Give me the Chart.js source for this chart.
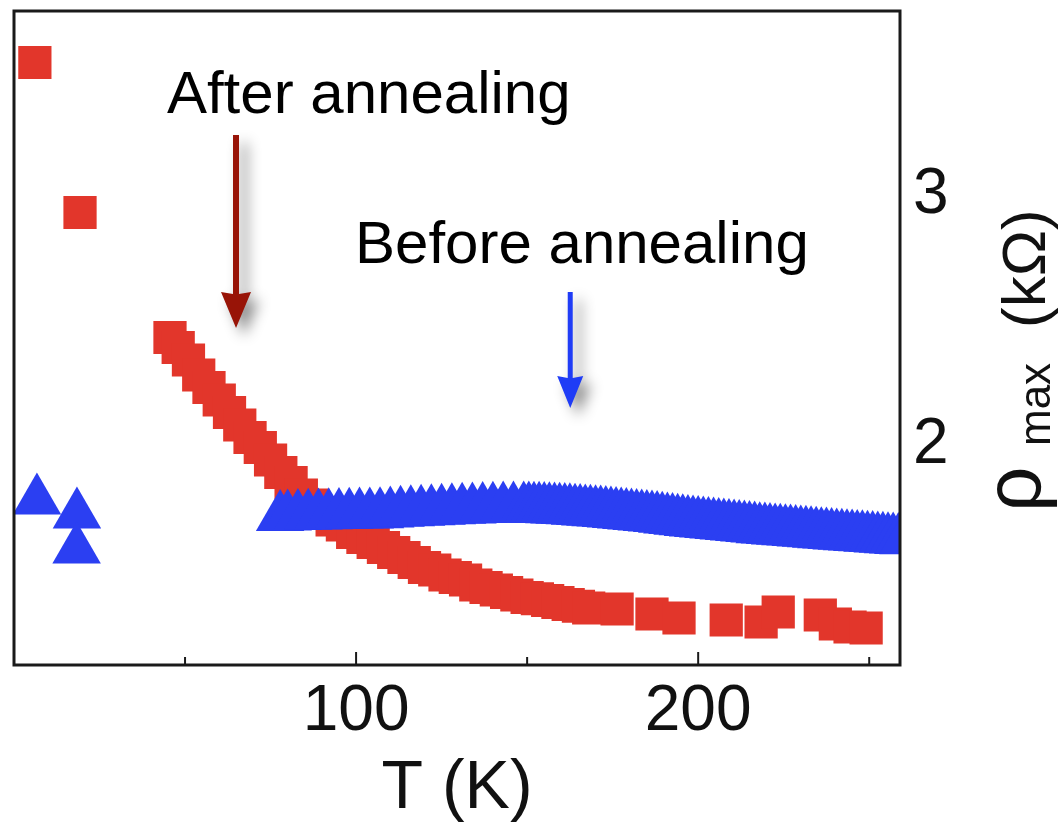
<!DOCTYPE html>
<html>
<head>
<meta charset="utf-8">
<title>rho max vs T</title>
<script src="https://cdn.jsdelivr.net/npm/chart.js@4.4.0/dist/chart.umd.min.js"></script>
<style>
    html, body { margin: 0; padding: 0; background: #ffffff; }
    #wrap { width: 1060px; height: 832px; }
</style>
</head>
<body>
<div id="wrap"><canvas id="rhoChart" width="1060" height="832"></canvas></div>
<script>
// Data: T in K, rho_max in kOhm
const afterT = [6.1, 19.3, 45.6, 48, 51, 54, 57, 60, 63, 66, 69, 72, 75, 78, 81, 84, 87, 90, 93, 96,
    99, 102, 105, 108, 111, 114, 117, 120, 123, 126, 129, 132, 135, 138, 141, 144, 147, 150, 153, 156,
    159, 162, 165, 168, 176.3, 186.5, 194.4, 208.2, 218.4, 223.4, 235.7, 240.1, 244.4, 249.1];
const afterRho = [3.53, 2.93, 2.43, 2.39, 2.34, 2.28, 2.23, 2.18, 2.13, 2.08, 2.03, 1.99, 1.94, 1.89, 1.85, 1.80, 1.76, 1.73, 1.70, 1.68,
    1.65, 1.63, 1.61, 1.59, 1.57, 1.55, 1.53, 1.51, 1.50, 1.48, 1.47, 1.46, 1.44, 1.43, 1.42, 1.41, 1.40, 1.39, 1.385, 1.378,
    1.37, 1.362, 1.355, 1.348, 1.344, 1.324, 1.308, 1.30, 1.292, 1.332, 1.32, 1.284, 1.272, 1.268];

const beforeT = [6.7, 18.4, 18.3, 77.8, 80, 83, 86, 89, 92, 95, 98, 101, 104, 107, 110, 113, 116, 119, 122,
    125, 128, 131, 134, 137, 140, 143, 146, 149, 150.5, 152, 153.5, 155, 156.5, 158, 159.5, 161, 162.5,
    164, 165.5, 167, 168.5, 170, 171.5, 173, 174.5, 176, 177.5, 179, 180.5, 182, 183.5, 185, 186.5,
    188, 189.5, 191, 192.5, 194, 195.5, 197, 198.5, 200, 201.5, 203, 204.5, 206, 207.5, 209, 210.5,
    212, 213.5, 215, 216.5, 218, 219.5, 221, 222.5, 224, 225.5, 227, 228.5, 230, 231.5, 233, 234.5,
    236, 237.5, 239, 240.5, 242, 243.5, 245, 246.5, 248, 249.5, 251, 252.5, 254, 255.5, 257, 258.5, 260];
const beforeRho = [1.778, 1.722, 1.582, 1.712, 1.714, 1.716, 1.717, 1.718, 1.719, 1.720, 1.721, 1.722, 1.722, 1.723, 1.726, 1.729, 1.731, 1.733, 1.735,
    1.737, 1.739, 1.741, 1.742, 1.744, 1.745, 1.746, 1.746, 1.746, 1.746, 1.745, 1.745, 1.744, 1.743, 1.742, 1.741, 1.740, 1.739,
    1.737, 1.736, 1.734, 1.733, 1.731, 1.730, 1.728, 1.726, 1.724, 1.722, 1.720, 1.718, 1.716, 1.714, 1.712, 1.710,
    1.708, 1.705, 1.702, 1.700, 1.697, 1.695, 1.692, 1.690, 1.688, 1.686, 1.684, 1.682, 1.680, 1.678, 1.676, 1.674,
    1.672, 1.670, 1.668, 1.666, 1.663, 1.662, 1.660, 1.658, 1.657, 1.655, 1.654, 1.652, 1.650, 1.649, 1.647, 1.645,
    1.643, 1.642, 1.640, 1.638, 1.637, 1.635, 1.634, 1.632, 1.631, 1.629, 1.628, 1.626, 1.625, 1.623, 1.622, 1.620, 1.619];

const xTickLabels = [100, 200];
const xMinorTicks = [50, 150, 250];
const yTickLabels = [2, 3];

const FONT = "'Liberation Sans', Arial, Helvetica, sans-serif";
const RED = '#e2362b';
const BLUE = '#2b3ff2';

function toPoints(xs, ys) {
    return xs.map((x, i) => ({ x: x, y: ys[i] }));
}

// no extra room for edge labels, the frame is fixed
function noScalePadding(scale) {
    scale.paddingTop = 0;
    scale.paddingBottom = 0;
    scale.paddingLeft = 0;
    scale.paddingRight = 0;
}

function drawArrow(ctx, x, y0, y1, color, lw, headW, headH) {
    ctx.save();
    ctx.shadowColor = 'rgba(0, 0, 0, 0.45)';
    ctx.shadowBlur = 14;
    ctx.shadowOffsetX = 8;
    ctx.shadowOffsetY = 8;
    ctx.fillStyle = color;
    ctx.beginPath();
    ctx.moveTo(x - lw / 2, y0);
    ctx.lineTo(x + lw / 2, y0);
    ctx.lineTo(x + lw / 2, y1 - headH + 2);
    ctx.lineTo(x + headW / 2, y1 - headH);
    ctx.lineTo(x, y1);
    ctx.lineTo(x - headW / 2, y1 - headH);
    ctx.lineTo(x - lw / 2, y1 - headH + 2);
    ctx.closePath();
    ctx.fill();
    ctx.restore();
}

// frame, inward ticks, arrows, notes and the rotated y title
const decorations = {
    id: 'decorations',
    afterDatasetsDraw(chart) {
        const ctx = chart.ctx;
        const area = chart.chartArea;
        const xs = chart.scales.x;
        const ys = chart.scales.y;

        ctx.save();
        ctx.strokeStyle = '#1a1a1a';
        ctx.lineWidth = 3;
        ctx.strokeRect(area.left, area.top, area.right - area.left, area.bottom - area.top);

        ctx.lineWidth = 2;
        xTickLabels.forEach(v => {
            const px = xs.getPixelForValue(v);
            ctx.beginPath();
            ctx.moveTo(px, area.bottom);
            ctx.lineTo(px, area.bottom - 13);
            ctx.stroke();
        });
        xMinorTicks.forEach(v => {
            const px = xs.getPixelForValue(v);
            ctx.beginPath();
            ctx.moveTo(px, area.bottom);
            ctx.lineTo(px, area.bottom - 8);
            ctx.stroke();
        });
        ctx.restore();

        // arrows, placed in data units
        drawArrow(ctx, xs.getPixelForValue(64.9), ys.getPixelForValue(3.24), ys.getPixelForValue(2.468), '#981407', 6, 30, 36);
        drawArrow(ctx, xs.getPixelForValue(162.6), ys.getPixelForValue(2.612), ys.getPixelForValue(2.148), '#1f3cf6', 5, 26, 32);

        ctx.save();
        ctx.fillStyle = '#000000';
        ctx.font = '60px ' + FONT;
        ctx.textBaseline = 'alphabetic';
        ctx.textAlign = 'left';
        ctx.fillText('After annealing', xs.getPixelForValue(44.7), ys.getPixelForValue(3.328));
        ctx.fillText('Before annealing', xs.getPixelForValue(99.7), ys.getPixelForValue(2.728));
        ctx.restore();
    },
    afterDraw(chart) {
        const ctx = chart.ctx;
        const area = chart.chartArea;
        ctx.save();
        ctx.translate(area.right + 140, area.bottom - 153);
        ctx.rotate(-Math.PI / 2);
        ctx.fillStyle = '#111111';
        ctx.textBaseline = 'alphabetic';
        ctx.textAlign = 'left';
        ctx.font = '80px ' + FONT;
        ctx.fillText('\u03c1', 0, 0);
        ctx.font = '44px ' + FONT;
        ctx.fillText('max', 66, 10);
        ctx.font = '62px ' + FONT;
        ctx.fillText('(k\u03a9)', 184, 5);
        ctx.restore();
    }
};

const ctx = document.getElementById('rhoChart').getContext('2d');
const rhoChart = new Chart(ctx, {
    type: 'scatter',
    data: {
        datasets: [{
            label: 'Before annealing',
            data: toPoints(beforeT, beforeRho),
            pointStyle: 'triangle',
            pointRadius: 28,
            pointBorderWidth: 0,
            backgroundColor: BLUE,
            borderColor: BLUE,
            order: 1,
            clip: 0
        }, {
            label: 'After annealing',
            data: toPoints(afterT, afterRho),
            pointStyle: 'rect',
            pointRadius: 23.5,
            pointBorderWidth: 0,
            backgroundColor: RED,
            borderColor: RED,
            order: 2,
            clip: 0
        }]
    },
    options: {
        responsive: false,
        animation: false,
        events: [],
        layout: {
            autoPadding: false,
            padding: { left: 14, top: 11, right: 0, bottom: 0 }
        },
        scales: {
            x: {
                type: 'linear',
                min: 0,
                max: 259,
                afterBuildTicks: scale => {
                    scale.ticks = xTickLabels.map(v => ({ value: v }));
                },
                afterFit: scale => {
                    scale.height = 167;
                    noScalePadding(scale);
                },
                grid: { display: false, drawTicks: false },
                border: { display: false },
                ticks: {
                    font: { family: FONT, size: 64 },
                    color: '#111111',
                    padding: 9,
                    maxRotation: 0,
                    autoSkip: false
                },
                title: {
                    display: true,
                    text: 'T (K)',
                    font: { family: FONT, size: 68 },
                    color: '#111111',
                    padding: { top: 0, bottom: 2 }
                }
            },
            y: {
                type: 'linear',
                position: 'right',
                min: 1.12,
                max: 3.736,
                afterBuildTicks: scale => {
                    scale.ticks = yTickLabels.map(v => ({ value: v }));
                },
                afterFit: scale => {
                    scale.width = 160;
                    noScalePadding(scale);
                },
                grid: { display: false, drawTicks: false },
                border: { display: false },
                ticks: {
                    font: { family: FONT, size: 64 },
                    color: '#111111',
                    padding: 13
                }
            }
        },
        plugins: {
            legend: { display: false },
            tooltip: { enabled: false }
        }
    },
    plugins: [decorations]
});
</script>
</body>
</html>
